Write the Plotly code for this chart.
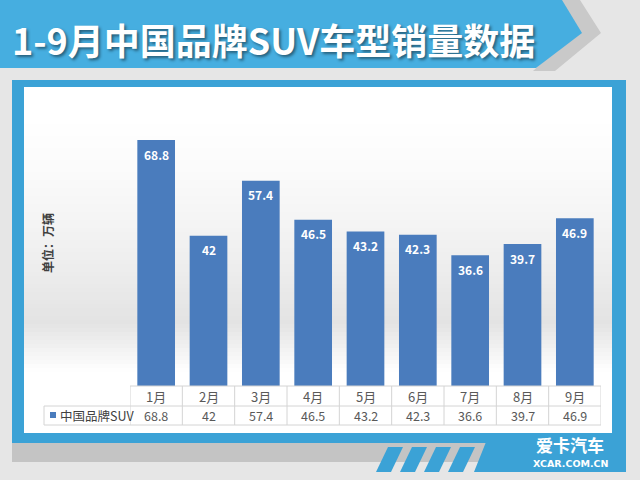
import plotly.graph_objects as go

# ---- data ----
months = ["1月", "2月", "3月", "4月", "5月", "6月", "7月", "8月", "9月"]
sales = [68.8, 42, 57.4, 46.5, 43.2, 42.3, 36.6, 39.7, 46.9]
series_name = "中国品牌SUV"
title_text = "1-9月中国品牌SUV车型销量数据"
unit_label = "单位：万辆"
brand_cn = "爱卡汽车"
brand_en = "XCAR.COM.CN"

W, H = 640, 480
FONT = "Noto Sans CJK SC"
BAR = "#4a7cbd"


def px(x):
    return x / W


def py(y):
    return 1 - y / H


def path(pts):
    return "M" + " L".join(f"{px(x):.5f},{py(y):.5f}" for x, y in pts) + " Z"


shapes = []


def poly(pts, color, layer="below", opacity=1):
    shapes.append(dict(type="path", xref="paper", yref="paper", path=path(pts),
                       fillcolor=color, line=dict(width=0), layer=layer, opacity=opacity))


def rect(x0, y0, x1, y1, color, layer="below", opacity=1):
    shapes.append(dict(type="rect", xref="paper", yref="paper",
                       x0=px(x0), x1=px(x1), y0=py(y1), y1=py(y0),
                       fillcolor=color, line=dict(width=0), layer=layer, opacity=opacity))


# header banner (shadow chevron + blue arrow)
poly([(560, 0), (580, 0), (601, 33), (555, 71), (533, 71), (572, 36)], "#c9c9c9")
poly([(0, 0), (562, 0), (582, 33), (536, 68), (0, 68)], "#46aee0")

# bottom decoration
rect(12, 442, 486, 462, "#c4c4c4")
rect(12, 80, 626, 443, "#3ba2d6")
poly([(486, 442), (626, 442), (626, 472), (474, 472)], "#3ba2d6")
for i in range(4):
    x0 = 376 + i * 24
    poly([(x0, 472), (x0 + 15, 472), (x0 + 27, 447), (x0 + 12, 447)], "#3ba2d6")

# white panel with soft gray gradient band
rect(24, 87, 612, 433, "#ffffff")
step = 4
y = 100
while y < 380:
    yc = y + step / 2
    if yc <= 322:
        o = 0.11 * ((yc - 100) / 222) ** 1.6
    else:
        o = max(0.0, 0.11 * (1 - (yc - 322) / 50))
    if o > 0.003:
        rect(24, y, 612, y + step, "#000000", opacity=o)
    y += step

# table grid
LINE = dict(color="#d4d4d4", width=1)
table_top, row_mid, table_bot = 386, 406, 425
shapes.append(dict(type="line", xref="x", yref="paper", x0=-0.5, x1=len(months) - 0.5,
                   y0=py(table_top), y1=py(table_top), line=LINE, layer="above"))
for yy in (row_mid, table_bot):
    shapes.append(dict(type="line", xref="paper", yref="paper", x0=px(44), x1=px(601),
                       y0=py(yy), y1=py(yy), line=LINE, layer="above"))
shapes.append(dict(type="line", xref="paper", yref="paper", x0=px(44), x1=px(44),
                   y0=py(row_mid), y1=py(table_bot), line=LINE, layer="above"))
for i in range(len(months) + 1):
    shapes.append(dict(type="line", xref="x", yref="paper", x0=i - 0.5, x1=i - 0.5,
                       y0=py(table_top), y1=py(table_bot), line=LINE, layer="above"))
# legend key
shapes.append(dict(type="rect", xref="paper", yref="paper", x0=px(50), x1=px(56),
                   y0=py(418), y1=py(412), fillcolor=BAR, line=dict(width=0), layer="above"))

fig = go.Figure()
fig.add_trace(go.Bar(x=months, y=sales, marker=dict(color=BAR, line=dict(width=0)),
                     width=0.72, hoverinfo="skip", showlegend=False))

annotations = []
for m, v in zip(months, sales):
    annotations.append(dict(x=m, y=v, xref="x", yref="y", text=f"{v:g}", showarrow=False,
                            xanchor="center", yanchor="middle", yshift=-14,
                            font=dict(family=FONT, size=12, color="white", weight="bold")))
    annotations.append(dict(x=m, y=py(396), xref="x", yref="paper", text=m, showarrow=False,
                            xanchor="center", yanchor="middle",
                            font=dict(family=FONT, size=13, color="#595959")))
    annotations.append(dict(x=m, y=py(415.5), xref="x", yref="paper", text=f"{v:g}", showarrow=False,
                            xanchor="center", yanchor="middle",
                            font=dict(family=FONT, size=12.5, color="#595959")))

annotations.append(dict(x=px(58), y=py(415.5), xref="paper", yref="paper", text=series_name,
                        xanchor="left", yanchor="middle", showarrow=False,
                        font=dict(family=FONT, size=12.5, color="#404040")))
annotations.append(dict(x=px(47), y=py(243), xref="paper", yref="paper", text=unit_label,
                        textangle=-90, xanchor="center", yanchor="middle", showarrow=False,
                        font=dict(family=FONT, size=12, color="#404040", weight="bold")))
annotations.append(dict(x=px(10), y=py(39), xref="paper", yref="paper", text=title_text,
                        xanchor="left", yanchor="middle", showarrow=False,
                        font=dict(family=FONT, size=36, color="white", weight="bold",
                                  shadow="2px 2px 3px rgba(0,0,0,0.45)")))
annotations.append(dict(x=px(570), y=py(444), xref="paper", yref="paper", text=brand_cn,
                        xanchor="center", yanchor="middle", showarrow=False,
                        font=dict(family=FONT, size=17, color="white", weight="bold")))
annotations.append(dict(x=px(570), y=py(463.5), xref="paper", yref="paper", text=brand_en,
                        xanchor="center", yanchor="middle", showarrow=False,
                        font=dict(family="DejaVu Sans", size=9.5, color="white", weight="bold")))

fig.update_layout(
    width=W, height=H,
    margin=dict(l=0, r=0, t=0, b=0),
    paper_bgcolor="#e6e6e6",
    plot_bgcolor="rgba(0,0,0,0)",
    xaxis=dict(domain=[px(130), px(601)], range=[-0.5, len(months) - 0.5],
               showticklabels=False, showgrid=False, zeroline=False, showline=False, ticks=""),
    yaxis=dict(domain=[py(386), py(100)], range=[0, 80],
               showticklabels=False, showgrid=False, zeroline=False, showline=False, ticks=""),
    shapes=shapes,
    annotations=annotations,
)

fig.write_html("out.html")
